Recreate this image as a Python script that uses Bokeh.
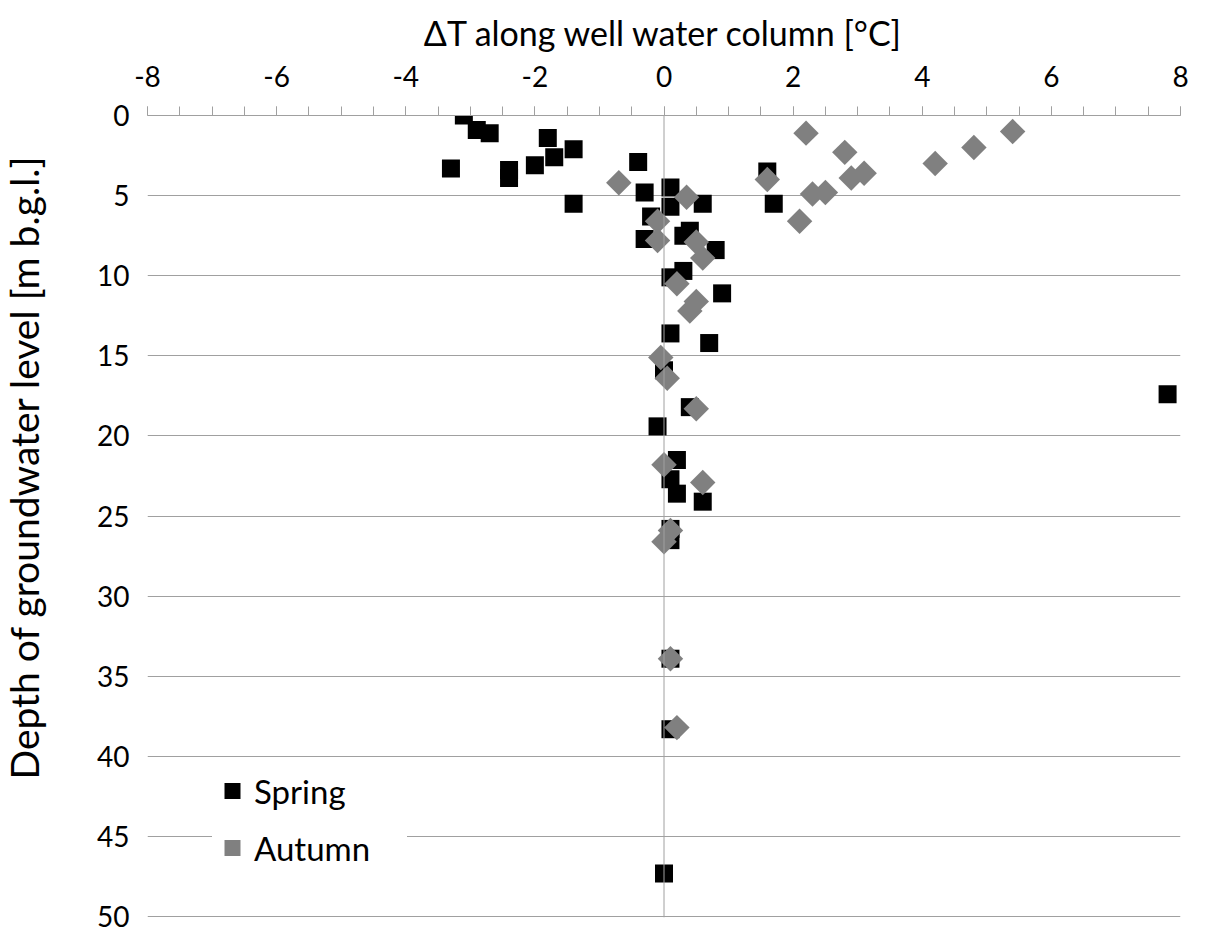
from bokeh.plotting import figure
from bokeh.models import (Range1d, FixedTicker, Span, Legend, LegendItem, Title)
from bokeh.embed import file_html
from bokeh.resources import INLINE
import numpy as np

# ---- data ----
spring_dt = [-3.1, -2.9, -2.7, -1.8, -1.4, -1.7, -2.0, -3.3, -2.4, -2.4,
             -0.4, -1.4, -0.3, 0.1, 0.1, 0.6, 1.6, 1.7, -0.2, -0.3,
             0.4, 0.3, 0.8, 0.3, 0.1, 0.9, 0.1, 0.7, 0.0, 0.4,
             -0.1, 0.2, 0.1, 0.2, 0.6, 0.1, 0.1, 0.1, 0.1, 0.0, 7.8]
spring_depth = [0.0, 0.9, 1.1, 1.4, 2.1, 2.6, 3.1, 3.3, 3.4, 3.9,
                2.9, 5.5, 4.8, 4.5, 5.7, 5.5, 3.5, 5.5, 6.3, 7.7,
                7.2, 7.5, 8.4, 9.7, 10.1, 11.1, 13.6, 14.2, 15.9, 18.2,
                19.4, 21.5, 22.7, 23.6, 24.1, 25.8, 26.5, 33.9, 38.3, 47.3, 17.4]

autumn_dt = [2.2, 2.8, 4.2, 4.8, 5.4, 1.6, 2.9, 3.1, 2.3, 2.5,
             2.1, -0.7, 0.35, -0.1, -0.1, 0.5, 0.6, 0.2, 0.5, 0.4,
             -0.05, 0.05, 0.5, 0.0, 0.6, 0.1, 0.0, 0.1, 0.2]
autumn_depth = [1.1, 2.3, 3.0, 2.0, 1.0, 4.0, 3.9, 3.6, 4.9, 4.8,
                6.6, 4.2, 5.1, 6.6, 7.8, 7.9, 8.9, 10.5, 11.6, 12.2,
                15.1, 16.4, 18.3, 21.8, 22.9, 25.9, 26.6, 33.9, 38.2]

x_ticks = [-8, -6, -4, -2, 0, 2, 4, 6, 8]
x_tick_labels = ["-8", "-6", "-4", "-2", "0", "2", "4", "6", "8"]
x_minor_ticks = [-8 + 0.5 * i for i in range(33)]
y_ticks = [0, 5, 10, 15, 20, 25, 30, 35, 40, 45, 50]
y_tick_labels = ["0", "5", "10", "15", "20", "25", "30", "35", "40", "45", "50"]

x_title = "ΔT along well water column [°C]"
y_title = "Depth of groundwater level [m b.g.l.]"
series_names = ["Spring", "Autumn"]

FONT = "Lato"
GRID = "#a0a0a0"

SHIFT = 58  # canvas is shifted left so the y title can sit near the page edge

p = figure(frame_width=1033, frame_height=802,
           min_border_left=147 + SHIFT, min_border_right=26,
           min_border_top=115, min_border_bottom=16,
           x_range=Range1d(-8, 8), y_range=Range1d(50.05, 0),
           x_axis_location="above",
           output_backend="svg", toolbar_location=None,
           outline_line_color=None, background_fill_color="white",
           border_fill_color="white", margin=(0, 0, 0, -SHIFT))

# x axis (top)
xa = p.xaxis[0]
xa.ticker = FixedTicker(ticks=x_ticks, minor_ticks=x_minor_ticks)
xa.major_label_overrides = {t: l for t, l in zip(x_ticks, x_tick_labels)}
xa.axis_line_color = GRID
xa.major_tick_line_color = GRID
xa.minor_tick_line_color = GRID
xa.major_tick_out = 9
xa.major_tick_in = 0
xa.minor_tick_out = 9
xa.minor_tick_in = 0
xa.major_label_text_font = FONT
xa.major_label_text_font_size = "28px"
xa.major_label_text_color = "black"
xa.major_label_standoff = 20
xa.axis_label = x_title
xa.axis_label_text_font = FONT
xa.axis_label_text_font_size = "34px"
xa.axis_label_text_font_style = "normal"
xa.axis_label_text_color = "black"
xa.axis_label_standoff = 10

# y axis (left)
ya = p.yaxis[0]
ya.ticker = FixedTicker(ticks=y_ticks)
ya.major_label_overrides = {t: l for t, l in zip(y_ticks, y_tick_labels)}
ya.axis_line_color = None
ya.major_tick_line_color = None
ya.minor_tick_line_color = None
ya.major_tick_out = 0
ya.major_tick_in = 0
ya.major_label_text_font = FONT
ya.major_label_text_font_size = "28px"
ya.major_label_text_color = "black"
ya.major_label_standoff = 18

p.xgrid.visible = False
p.ygrid[0].ticker = FixedTicker(ticks=y_ticks)
p.ygrid.grid_line_color = GRID
p.ygrid.grid_line_width = 1

p.add_layout(Span(location=0, dimension="height", line_color=GRID, line_width=1))

ylab = Title(text=y_title, align="left", offset=138, text_font=FONT,
             text_font_size="39px", text_font_style="normal", text_color="black",
             standoff=96)
p.add_layout(ylab, "left")

r1 = p.scatter(spring_dt, spring_depth, marker="square", size=18,
               fill_color="black", line_color="black", line_width=0)
r2 = p.scatter(autumn_dt, autumn_depth, marker="square", angle=np.pi / 4, size=18,
               fill_color="#808080", line_color="#808080", line_width=0)

legend = Legend(items=[LegendItem(label=series_names[0], renderers=[r1]),
                       LegendItem(label=series_names[1], renderers=[r2])],
                location=(65, 47), padding=22, margin=0, spacing=12,
                glyph_width=40, glyph_height=45, label_standoff=2,
                label_width=153,
                border_line_color=None, background_fill_color="white",
                background_fill_alpha=1.0,
                label_text_font=FONT, label_text_font_size="33px",
                label_text_color="black")
p.add_layout(legend)

open("out.html", "w").write(file_html(p, INLINE))
